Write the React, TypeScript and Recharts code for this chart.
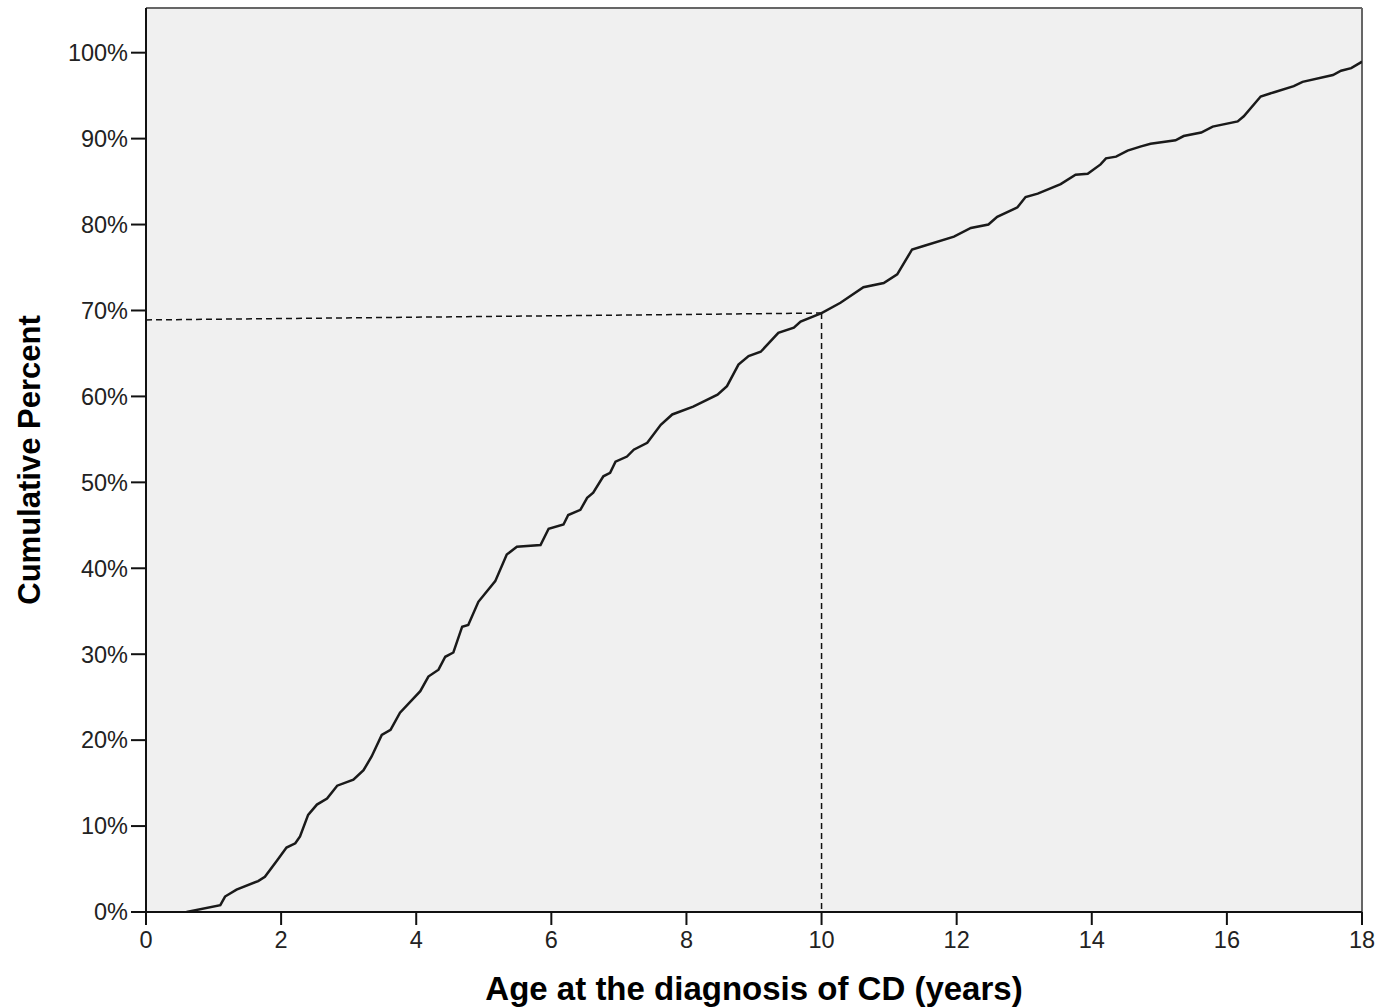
import { LineChart, Line, XAxis, YAxis, CartesianGrid, ReferenceLine } from 'recharts';

// age at diagnosis (years) vs cumulative percent
const ages = [
  0.6, 1.1, 1.17, 1.34, 1.66, 1.76, 1.94, 2.08, 2.21, 2.28, 2.4, 2.53, 2.68, 2.83, 3.07, 3.22,
  3.34, 3.49, 3.62, 3.76, 4.06, 4.18, 4.33, 4.43, 4.55, 4.68, 4.77, 4.92, 5.17, 5.34, 5.49, 5.84,
  5.96, 6.18, 6.25, 6.43, 6.53, 6.62, 6.77, 6.87, 6.95, 7.12, 7.22, 7.42, 7.62, 7.79, 8.1, 8.46,
  8.6, 8.77, 8.92, 9.1, 9.36, 9.59, 9.69, 10.0, 10.28, 10.62, 10.92, 11.12, 11.34, 11.51, 11.96,
  12.21, 12.47, 12.6, 12.9, 13.02, 13.2, 13.54, 13.76, 13.94, 14.13, 14.21, 14.36, 14.53, 14.73,
  14.87, 15.24, 15.36, 15.62, 15.79, 16.16, 16.25, 16.5, 16.7, 16.99, 17.12, 17.57, 17.69, 17.84,
  17.99, 18.0,
];
const cumPct = [
  0.0, 0.8, 1.8, 2.6, 3.6, 4.1, 6.0, 7.5, 8.0, 8.8, 11.3, 12.5, 13.2, 14.7, 15.4, 16.5,
  18.1, 20.6, 21.2, 23.2, 25.7, 27.4, 28.2, 29.7, 30.2, 33.2, 33.4, 36.1, 38.5, 41.6, 42.5, 42.7,
  44.6, 45.1, 46.2, 46.8, 48.2, 48.8, 50.7, 51.1, 52.4, 53.0, 53.8, 54.6, 56.7, 57.9, 58.8, 60.2,
  61.2, 63.7, 64.7, 65.2, 67.4, 68.0, 68.7, 69.7, 70.9, 72.7, 73.2, 74.2, 77.1, 77.5, 78.6,
  79.6, 80.0, 80.9, 82.0, 83.2, 83.6, 84.7, 85.8, 85.9, 87.0, 87.7, 87.9, 88.6, 89.1,
  89.4, 89.8, 90.3, 90.7, 91.4, 92.0, 92.6, 94.9, 95.4, 96.1, 96.6, 97.4, 97.9, 98.2,
  98.9, 99.0,
];

const xTicks = [0, 2, 4, 6, 8, 10, 12, 14, 16, 18];
const yTicks = [0, 10, 20, 30, 40, 50, 60, 70, 80, 90, 100];
const yMax = 105.2;

// guide: age 10 -> ~69.7%
const guideAge = 10;
const guideLeftPct = 68.9;
const guidePct = 69.7;

const data = ages.map((a, i) => ({ age: a, pct: cumPct[i] }));

const font = "'Liberation Sans', Arial, sans-serif";
const tickStyle = { fill: '#222', fontSize: 23.5, fontFamily: font };

export default function App() {
  return (
    <div style={{ position: 'absolute', left: 0, top: 0, background: '#fff' }}>
      <LineChart width={1378} height={1007} data={data} margin={{ top: 8, right: 16, bottom: 0, left: 0 }}>
        <CartesianGrid horizontal={false} vertical={false} fill="#f0f0f0" />
        <XAxis
          type="number"
          dataKey="age"
          domain={[0, 18]}
          ticks={xTicks}
          height={95}
          tick={tickStyle}
          tickSize={13}
          tickMargin={6}
          axisLine={{ stroke: '#111', strokeWidth: 2 }}
          tickLine={{ stroke: '#111', strokeWidth: 2 }}
          allowDataOverflow
          label={{
            value: 'Age at the diagnosis of CD (years)',
            position: 'insideBottom',
            offset: 7,
            style: { fill: '#000', fontSize: 33, fontWeight: 700, fontFamily: font },
          }}
        />
        <YAxis
          type="number"
          domain={[0, yMax]}
          ticks={yTicks}
          width={146}
          tick={tickStyle}
          tickFormatter={(v: number) => `${v}%`}
          tickSize={15}
          tickMargin={3}
          axisLine={{ stroke: '#111', strokeWidth: 2 }}
          tickLine={{ stroke: '#111', strokeWidth: 2 }}
          allowDataOverflow
          label={{
            value: 'Cumulative Percent',
            angle: -90,
            position: 'center',
            dx: -44,
            style: { fill: '#000', fontSize: 31, fontWeight: 700, fontFamily: font },
          }}
        />
        {/* top/right frame */}
        <ReferenceLine y={yMax} stroke="#666" strokeWidth={2} />
        <ReferenceLine x={18} stroke="#666" strokeWidth={2} />
        <ReferenceLine
          segment={[{ x: 0, y: guideLeftPct }, { x: guideAge, y: guidePct }]}
          stroke="#111"
          strokeWidth={1.5}
          strokeDasharray="6 4"
        />
        <ReferenceLine
          segment={[{ x: guideAge, y: guidePct }, { x: guideAge, y: 0 }]}
          stroke="#111"
          strokeWidth={1.5}
          strokeDasharray="6 4"
        />
        <Line
          type="linear"
          dataKey="pct"
          stroke="#1a1a1a"
          strokeWidth={2.5}
          dot={false}
          isAnimationActive={false}
        />
      </LineChart>
    </div>
  );
}
